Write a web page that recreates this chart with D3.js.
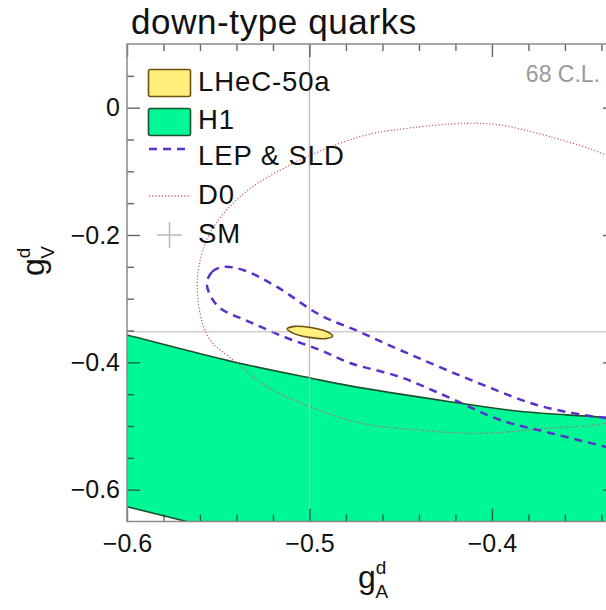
<!doctype html>
<html>
<head>
<meta charset="utf-8">
<title>down-type quarks</title>
<script src="https://d3js.org/d3.v7.min.js"></script>
<style>
  body { margin: 0; background: #fff; }
  svg { font-family: "Liberation Sans", Arial, sans-serif; }
</style>
</head>
<body>
<svg id="chart" width="606" height="610"></svg>
<script>
// 68% C.L. contours, as [gA, gV] pairs
var lhecPts = [[-0.5122,-0.3475],[-0.5082,-0.3435],[-0.4993,-0.3454],[-0.4906,-0.3517],
               [-0.4873,-0.3588],[-0.4912,-0.3627],[-0.5002,-0.3608],[-0.5088,-0.3545]];

var h1Pts = [[-0.62,-0.343],[-0.6,-0.357],[-0.5419,-0.399],[-0.4997,-0.4245],[-0.4778,-0.437],
             [-0.423,-0.4618],[-0.3865,-0.4764],[-0.3591,-0.4826],[-0.3375,-0.4863],[-0.31,-0.489],
             [-0.30,-0.80],[-0.40,-0.76],[-0.5,-0.698],[-0.5673,-0.65],[-0.6,-0.6267],[-0.62,-0.612]];

var lepPts = [[-0.5562,-0.2752],[-0.5534,-0.258],[-0.5474,-0.2502],[-0.5364,-0.2549],[-0.5178,-0.2816],
              [-0.4942,-0.3256],[-0.4723,-0.3523],[-0.4504,-0.3806],[-0.4049,-0.4355],[-0.3753,-0.467],
              [-0.3501,-0.4826],[-0.3375,-0.4874],[-0.318,-0.494],[-0.305,-0.51],[-0.31,-0.54],
              [-0.322,-0.545],[-0.3375,-0.5329],[-0.3682,-0.5109],[-0.3956,-0.4905],[-0.423,-0.4559],
              [-0.4504,-0.423],[-0.4778,-0.401],[-0.4942,-0.3806],[-0.5123,-0.3618],[-0.5326,-0.3367],
              [-0.549,-0.3146],[-0.5545,-0.2941]];

var d0Pts = [[-0.3375,-0.0743],[-0.3682,-0.0455],[-0.3956,-0.0272],[-0.4139,-0.0245],[-0.4449,-0.0319],
             [-0.4723,-0.0455],[-0.5125,-0.0927],[-0.5381,-0.1398],[-0.5545,-0.1968],[-0.5611,-0.2596],
             [-0.56,-0.3224],[-0.5545,-0.3648],[-0.5419,-0.3963],[-0.5235,-0.4382],[-0.4997,-0.4696],
             [-0.4723,-0.4952],[-0.4413,-0.5062],[-0.4049,-0.5114],[-0.3682,-0.5031],[-0.3375,-0.4952],
             [-0.31,-0.46],[-0.295,-0.30],[-0.30,-0.16],[-0.315,-0.11]];

var smPoint = [-0.5, -0.352];

var xMajor = [-0.6, -0.5, -0.4];
var xMinor = [-0.58,-0.56,-0.54,-0.52,-0.48,-0.46,-0.44,-0.42,-0.38,-0.36,-0.34];
var yMajor = [0, -0.2, -0.4, -0.6];
var yMinor = [0.05,-0.05,-0.1,-0.15,-0.25,-0.3,-0.35,-0.45,-0.5,-0.55];

var legendLabels = ["LHeC-50a", "H1", "LEP & SLD", "D0", "SM"];

var svg = d3.select("#chart");
var x = d3.scaleLinear().domain([-0.6, -0.332]).range([127, 616]);
var y = d3.scaleLinear().domain([-0.65, 0.1]).range([521.5, 44]);

svg.append("clipPath").attr("id", "plotclip")
  .append("rect")
    .attr("x", x.range()[0]).attr("y", y.range()[1])
    .attr("width", x.range()[1] - x.range()[0])
    .attr("height", y.range()[0] - y.range()[1]);

var plot = svg.append("g").attr("clip-path", "url(#plotclip)");

var line = d3.line().x(d => x(d[0])).y(d => y(d[1])).curve(d3.curveCatmullRomClosed);

// H1 band
plot.append("path")
  .attr("d", line(h1Pts))
  .style("fill", "#00f796")
  .style("stroke", "#17522c")
  .style("stroke-width", "1.6px");

// D0 dotted contour
plot.append("path")
  .attr("d", line(d0Pts))
  .style("fill", "none")
  .style("stroke", "#c0607a")
  .style("stroke-width", "1.3px")
  .style("stroke-dasharray", "1.2,2");

// LEP & SLD dashed contour
plot.append("path")
  .attr("d", line(lepPts))
  .style("fill", "none")
  .style("stroke", "#5a30c8")
  .style("stroke-width", "2.5px")
  .style("stroke-dasharray", "8,6");

// SM lines
plot.append("line")
  .attr("x1", x(smPoint[0])).attr("x2", x(smPoint[0]))
  .attr("y1", y.range()[0]).attr("y2", y.range()[1])
  .style("stroke", "#b8b8b8").style("stroke-width", "1.2px");
plot.append("line")
  .attr("x1", x.range()[0]).attr("x2", x.range()[1])
  .attr("y1", y(smPoint[1])).attr("y2", y(smPoint[1]))
  .style("stroke", "#b8b8b8").style("stroke-width", "1.2px");

// LHeC ellipse
plot.append("path")
  .attr("d", line(lhecPts))
  .style("fill", "#fff07e")
  .style("stroke", "#6e5214")
  .style("stroke-width", "1.6px");

// axes: ticks inside the frame
function styleAxis(g) {
  g.select(".domain").remove();
  g.selectAll(".tick line").style("stroke", "#333").style("stroke-opacity", 0.75).style("stroke-width", "1.4px");
  g.selectAll("text").style("font-size", "25px").style("fill", "#111")
    .style("font-family", "'Liberation Sans', Arial, sans-serif");
}
var fmt = d => d === 0 ? "0" : d3.format(".1f")(d);

svg.append("g").attr("transform", "translate(0," + y.range()[0] + ")")
  .call(d3.axisBottom(x).tickValues(xMajor).tickSize(-13).tickPadding(13).tickFormat(fmt)).call(styleAxis);
svg.append("g").attr("transform", "translate(0," + y.range()[0] + ")")
  .call(d3.axisBottom(x).tickValues(xMinor).tickSize(-7).tickFormat("")).call(styleAxis);
svg.append("g").attr("transform", "translate(0," + y.range()[1] + ")")
  .call(d3.axisTop(x).tickValues(xMajor).tickSize(-13).tickFormat("")).call(styleAxis);
svg.append("g").attr("transform", "translate(0," + y.range()[1] + ")")
  .call(d3.axisTop(x).tickValues(xMinor).tickSize(-7).tickFormat("")).call(styleAxis);

svg.append("g").attr("transform", "translate(" + x.range()[0] + ",0)")
  .call(d3.axisLeft(y).tickValues(yMajor).tickSize(-13).tickPadding(7).tickFormat(fmt)).call(styleAxis);
svg.append("g").attr("transform", "translate(" + x.range()[0] + ",0)")
  .call(d3.axisLeft(y).tickValues(yMinor).tickSize(-7).tickFormat("")).call(styleAxis);
svg.append("g").attr("transform", "translate(" + x.range()[1] + ",0)")
  .call(d3.axisRight(y).tickValues(yMajor).tickSize(-13).tickFormat("")).call(styleAxis);
svg.append("g").attr("transform", "translate(" + x.range()[1] + ",0)")
  .call(d3.axisRight(y).tickValues(yMinor).tickSize(-7).tickFormat("")).call(styleAxis);

// frame
svg.append("rect")
  .attr("x", x.range()[0]).attr("y", y.range()[1])
  .attr("width", x.range()[1] - x.range()[0])
  .attr("height", y.range()[0] - y.range()[1])
  .style("fill", "none").style("stroke", "#8a8a8a").style("stroke-width", "1.5px");

// title and CL label
svg.append("text").attr("x", 131).attr("y", 34)
  .style("font-size", "35px").style("letter-spacing", "0.6px").style("fill", "#111").text("down-type quarks");
svg.append("text").attr("x", 600).attr("y", 82).attr("text-anchor", "end")
  .style("font-size", "23px").style("fill", "#9a9a9a").text("68 C.L.");

// axis titles
var xt = svg.append("text").attr("x", 358).attr("y", 588).style("fill", "#111");
xt.append("tspan").style("font-size", "32px").text("g");
xt.append("tspan").attr("dy", -14).style("font-size", "19px").text("d");
xt.append("tspan").attr("dx", -11).attr("dy", 24).style("font-size", "19px").text("A");

var yt = svg.append("text").attr("transform", "translate(44,276) rotate(-90)").style("fill", "#111");
yt.append("tspan").style("font-size", "32px").text("g");
yt.append("tspan").attr("dy", -14).style("font-size", "19px").text("d");
yt.append("tspan").attr("dx", -11).attr("dy", 24).style("font-size", "19px").text("V");

// legend
var leg = svg.append("g");
var rowY = [83, 122, 149, 196, 235];
var baseY = [90.5, 129, 165, 204, 242.5];
leg.append("rect").attr("x", 148.5).attr("y", rowY[0] - 13.5).attr("width", 42).attr("height", 27).attr("rx", 2)
  .style("fill", "#fff07e").style("stroke", "#6e5214").style("stroke-width", "1.6px");
leg.append("rect").attr("x", 148.5).attr("y", rowY[1] - 13.5).attr("width", 42).attr("height", 27).attr("rx", 2)
  .style("fill", "#00f796").style("stroke", "#17522c").style("stroke-width", "1.6px");
leg.append("line").attr("x1", 149).attr("x2", 191).attr("y1", rowY[2]).attr("y2", rowY[2])
  .style("stroke", "#5a30c8").style("stroke-width", "2.5px").style("stroke-dasharray", "8,6");
leg.append("line").attr("x1", 149).attr("x2", 191).attr("y1", rowY[3]).attr("y2", rowY[3])
  .style("stroke", "#c0607a").style("stroke-width", "1.3px").style("stroke-dasharray", "1.2,2");
leg.append("line").attr("x1", 157).attr("x2", 182).attr("y1", rowY[4]).attr("y2", rowY[4])
  .style("stroke", "#b8b8b8").style("stroke-width", "1.5px");
leg.append("line").attr("x1", 169.5).attr("x2", 169.5).attr("y1", rowY[4] - 13).attr("y2", rowY[4] + 13)
  .style("stroke", "#b8b8b8").style("stroke-width", "1.5px");
leg.selectAll("text.lab").data(legendLabels).enter()
  .append("text").attr("class", "lab")
  .attr("x", 198).attr("y", (d, i) => baseY[i])
  .style("font-size", "27.5px").style("letter-spacing", "0.9px").style("fill", "#111")
  .text(d => d);
</script>
</body>
</html>
